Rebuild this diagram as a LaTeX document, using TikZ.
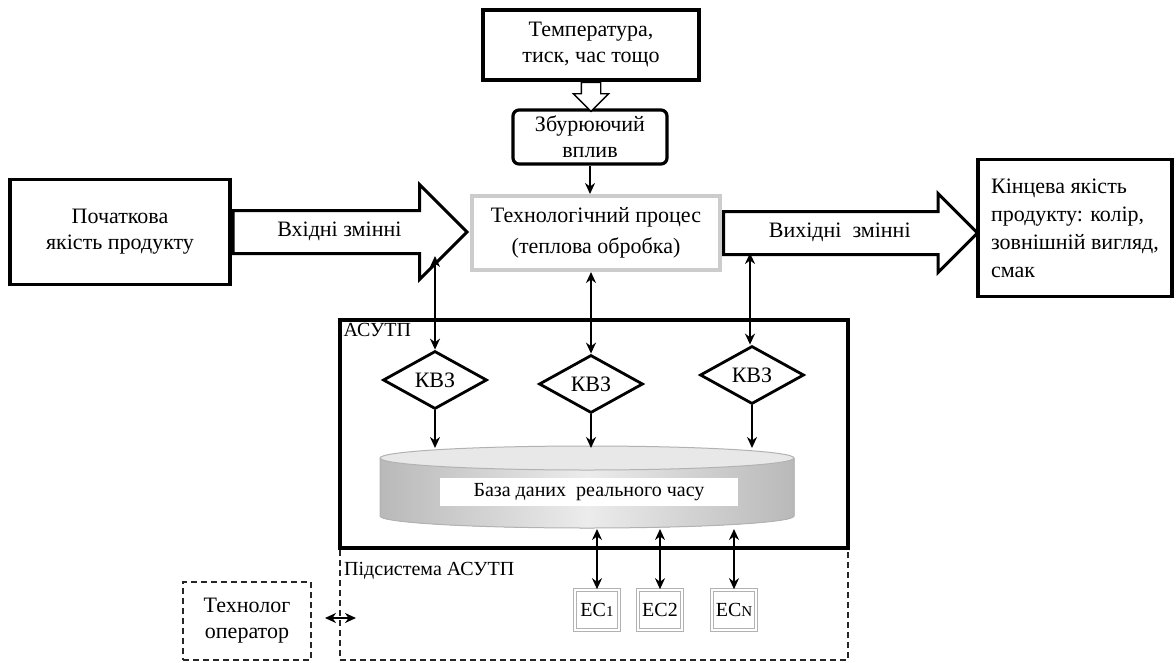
\documentclass[tikz,border=0pt]{standalone}
\usepackage{fontspec}
\setmainfont{Liberation Serif}
\usetikzlibrary{shapes.geometric, shapes.arrows, arrows.meta}
\tikzstyle{thickbox} = [rectangle, draw=black, line width=3.2pt, fill=white, align=center]
\tikzstyle{procbox} = [rectangle, draw=gray!40, line width=4pt, fill=white, align=center, minimum width=248, minimum height=74]
\tikzstyle{kvz} = [diamond, draw=black, line width=2.8pt, fill=white, minimum width=104, minimum height=58, inner sep=0pt]
\tikzstyle{ecbox} = [rectangle, draw=gray!60, double=white, double distance=1.6pt, line width=1.6pt, minimum width=44, minimum height=40, inner sep=0pt, font=\fontsize{20}{22}\selectfont]
\tikzstyle{dashbox} = [rectangle, draw=black!85, line width=2pt, dash pattern=on 6pt off 4pt, align=center]
\tikzstyle{hollow} = [single arrow, draw=black, line width=3pt, fill=white, text height=14pt, text depth=5pt, inner ysep=10.5pt, inner xsep=6pt, single arrow head indent=0pt, anchor=tail]
\tikzstyle{arrow} = [line width=2.4pt, -{Stealth[length=11pt, width=10pt]}]
\tikzstyle{darrow} = [line width=2.4pt, {Stealth[length=11pt, width=10pt]}-{Stealth[length=11pt, width=10pt]}]

\begin{document}
\begin{tikzpicture}[x=1pt, y=-1pt, font=\fontsize{22}{26}\selectfont]
\useasboundingbox (0,0) rectangle (1176,662);

% upper part
\node (temp) [thickbox, minimum width=216, minimum height=70] at (591,45) {Температура,\\ тиск, час тощо};
\node (zbur) [thickbox, rounded corners=6pt, minimum width=154, minimum height=54] at (590,137) {Збурюючий\\ вплив};
\node (dn) [single arrow, draw=black, line width=1.4pt, fill=white, inner sep=9pt, minimum height=28, single arrow head extend=8pt, shape border rotate=270, anchor=tail] at (temp.south) {};
\node (proc) [procbox] at (596,233) {Технологічний процес\\[5pt](теплова обробка)};
\node (start) [thickbox, minimum width=220, minimum height=105] at (120,232) {Початкова\\ якість продукту};
\node (final) [thickbox, minimum width=194, minimum height=137, align=left, font=\fontsize{22}{28}\selectfont] at (1075,228) {Кінцева якість\\ продукту: колір,\\ зовнішній вигляд,\\ смак};
\node (inarr) [hollow, minimum height=234, single arrow head extend=26pt] at (start.east) {Вхідні змінні};
\node (outarr) [hollow, minimum height=254, single arrow head extend=18pt] at (proc.east) {Вихідні\ \ змінні};

\draw [arrow] (zbur.south) -- (zbur.south |- proc.north);

% ASUTP
\node (sub) [dashbox, minimum width=508, minimum height=112] at (594,604) {};
\node (asutp) [rectangle, draw=black, line width=3.2pt, minimum width=508, minimum height=228] at (594,434) {};
\node (asutplbl) [anchor=north west, inner sep=5pt, font=\fontsize{20}{22}\selectfont] at (asutp.north west) {АСУТП};
\node (sublbl) [anchor=north west, inner sep=5pt, font=\fontsize{20}{22}\selectfont] at ([yshift=-10pt]sub.north west) {Підсистема АСУТП};

\node (kvz1) [kvz] at (435,380) {КВЗ};
\node (kvz2) [kvz] at (591,384) {КВЗ};
\node (kvz3) [kvz] at (752,375) {КВЗ};

% database
\fill [left color=gray!55, right color=gray!55, middle color=gray!15] (380,458) -- (380,516) arc [start angle=180, end angle=360, x radius=207pt, y radius=12pt] -- (794,458) -- cycle;
\draw [gray!60, line width=1pt] (380,458) -- (380,516) arc [start angle=180, end angle=360, x radius=207pt, y radius=12pt] -- (794,458);
\filldraw [fill=gray!18, draw=gray!60, line width=1pt] (587,458) ellipse [x radius=207pt, y radius=12pt];
\node (db) [rectangle, fill=white, minimum width=298, minimum height=28, font=\fontsize{20}{22}\selectfont] at (589,492) {База даних\ \ реального часу};
\coordinate (dbtop) at (587,448);
\coordinate (dbbot) at (587,529);

\coordinate (in1) at (435,256);
\coordinate (out1) at (750,253);
\draw [darrow] (in1) -- (kvz1.north);
\draw [darrow] (kvz2 |- proc.south) -- (kvz2.north);
\draw [darrow] (out1) -- (out1 |- kvz3.north);
\draw [arrow] (kvz1.south) -- (kvz1.south |- dbtop);
\draw [arrow] (kvz2.south) -- (kvz2.south |- dbtop);
\draw [arrow] (kvz3.south) -- (kvz3.south |- dbtop);

% subsystems
\node (ec1) [ecbox] at (597,610) {ЕС{\fontsize{15}{16}\selectfont 1}};
\node (ec2) [ecbox] at (660,610) {ЕС2};
\node (ecn) [ecbox] at (734,610) {ЕС{\fontsize{15}{16}\selectfont N}};
\draw [darrow] (ec1 |- dbbot) -- (ec1.north);
\draw [darrow] (ec2 |- dbbot) -- (ec2.north);
\draw [darrow] (ecn |- dbbot) -- (ecn.north);

\node (tech) [dashbox, minimum width=128, minimum height=78] at (247,621) {Технолог\\ оператор};
\coordinate (opL) at (325,618);
\coordinate (opR) at (356,618);
\draw [darrow] (opL) -- (opR);

\end{tikzpicture}
\end{document}
